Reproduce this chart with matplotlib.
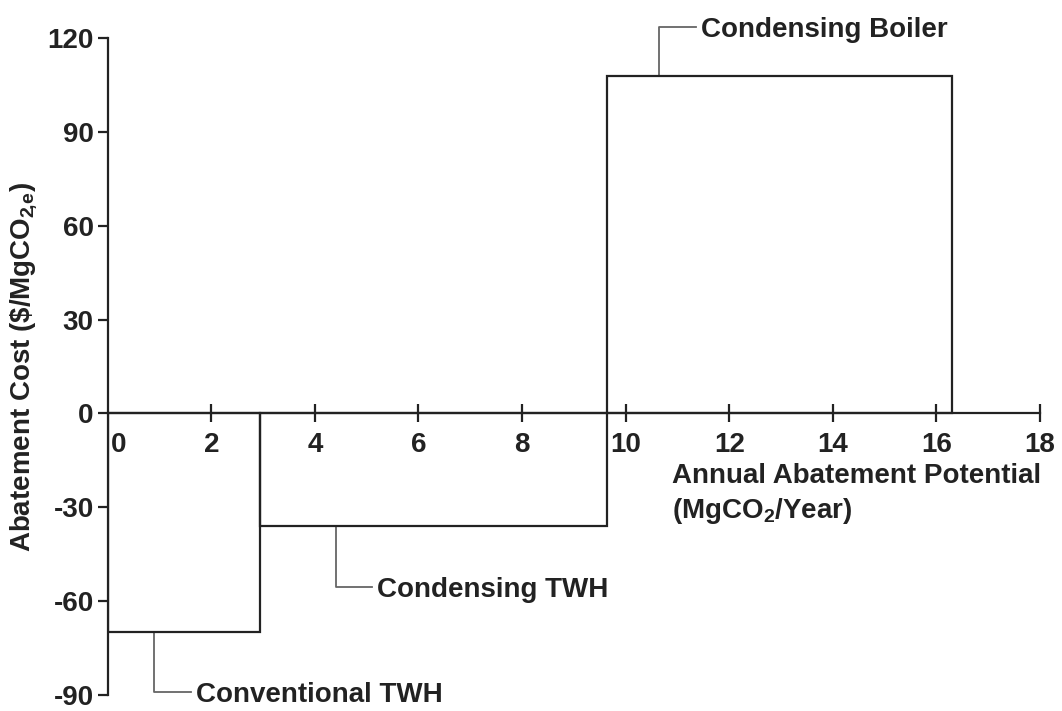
import matplotlib
matplotlib.use("Agg")
import matplotlib.pyplot as plt
import matplotlib.transforms as mtransforms
import numpy as np

# Marginal abatement cost curve for water-heating / boiler measures
measures = ["Conventional TWH", "Condensing TWH", "Condensing Boiler"]
potential = [2.95, 6.69, 6.66]          # MgCO2/yr abated by each measure (bar widths)
cost = [-70, -36, 108]                   # $/MgCO2,e (bar heights)

# label anchor on each bar (x in data units) and where the label text sits (y)
leader_x = [0.9, 4.4, 10.65]
label_y = [-89.0, -55.4, 123.6]

xticks = [0, 2, 4, 6, 8, 10, 12, 14, 16, 18]
yticks = [-90, -60, -30, 0, 30, 60, 90, 120]

plt.rcParams["font.family"] = ["Liberation Sans", "DejaVu Sans"]
plt.rcParams["font.weight"] = "bold"
plt.rcParams["axes.unicode_minus"] = False
plt.rcParams["mathtext.fontset"] = "custom"
plt.rcParams["mathtext.rm"] = "Liberation Sans:bold"
plt.rcParams["mathtext.it"] = "Liberation Sans:bold"
plt.rcParams["mathtext.bf"] = "Liberation Sans:bold"

ink = "#222222"
leader = "#666666"
fs = 20

fig = plt.figure(figsize=(10.62, 7.11), dpi=100)
ax = fig.add_axes([0.1014, 0.0225, 0.8779, 0.9241])
ax.set_xlim(0, 18)
ax.set_ylim(-90, 120)

left_edges = np.concatenate([[0], np.cumsum(potential)[:-1]])
ax.bar(left_edges, cost, width=potential, align="edge",
       facecolor="none", edgecolor=ink, linewidth=1.6, zorder=2)

# spines: y axis on the left, x axis through zero
for s in ["top", "right"]:
    ax.spines[s].set_visible(False)
ax.spines["bottom"].set_position(("data", 0))
for s in ["left", "bottom"]:
    ax.spines[s].set_linewidth(1.6)
    ax.spines[s].set_color(ink)
    ax.spines[s].set_zorder(3)

ax.set_xticks(xticks)
ax.set_yticks(yticks)
ax.tick_params(axis="x", direction="inout", length=13, width=1.6, color=ink,
               labelsize=fs, pad=7, labelcolor=ink)
ax.tick_params(axis="y", direction="out", length=7, width=1.6, color=ink,
               labelsize=fs, pad=3, labelcolor=ink)
for lab in ax.get_xticklabels() + ax.get_yticklabels():
    lab.set_fontweight("bold")
    lab.set_va("center_baseline") if lab in ax.get_yticklabels() else None

# the x "0" sits just right of the y axis; its tick mark is the y spine itself
xt0 = ax.xaxis.get_major_ticks()[0]
xt0.tick1line.set_visible(False)
shift = mtransforms.ScaledTranslation(11 / 100, 0, fig.dpi_scale_trans)
xt0.label1.set_transform(xt0.label1.get_transform() + shift)

# axis titles
ax.set_ylabel(r"Abatement Cost (\$/MgCO$_{2\!,\!e}$)", fontsize=fs,
              fontweight="bold", color=ink, labelpad=6)
ax.text(10.9, -20.0, "Annual Abatement Potential", fontsize=fs,
        fontweight="bold", color=ink, ha="left", va="center")
ax.text(10.9, -31.3, r"(MgCO$_2$/Year)", fontsize=fs,
        fontweight="bold", color=ink, ha="left", va="center")

# measure labels with elbow leader lines
for name, lx, h, ly in zip(measures, leader_x, cost, label_y):
    x_end = lx + 0.7
    ax.plot([lx, lx, x_end], [h, ly, ly], color=leader, linewidth=1.3,
            clip_on=False, zorder=1)
    ax.text(x_end + 0.1, ly, name, fontsize=fs, fontweight="bold",
            color=ink, ha="left", va="center_baseline", clip_on=False)

fig.savefig("out.png", dpi=100, facecolor="white")
